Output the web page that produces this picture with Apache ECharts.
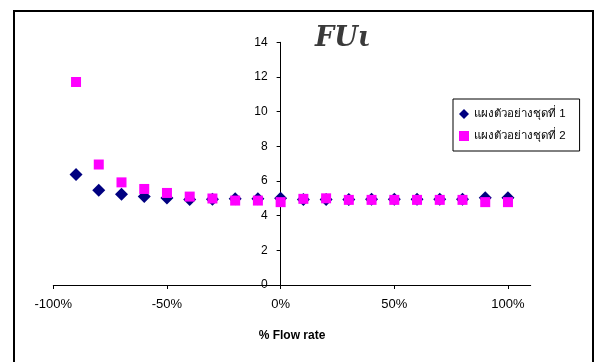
<!DOCTYPE html>
<html><head><meta charset="utf-8">
<script src="https://cdn.jsdelivr.net/npm/echarts@6/dist/echarts.min.js"></script>
<style>html,body{margin:0;padding:0;background:#fff}#c{width:595px;height:362px}</style>
</head><body><div id="c"></div>
<script>
const titleText = 'FUι';
const xValues = [-0.9,-0.8,-0.7,-0.6,-0.5,-0.4,-0.3,-0.2,-0.1,0,0.1,0.2,0.3,0.4,0.5,0.6,0.7,0.8,0.9,1.0];
const series1Name = 'แผงตัวอย่างชุดที่ 1';
const series2Name = 'แผงตัวอย่างชุดที่ 2';
const series1 = [6.38,5.46,5.23,5.10,5.02,4.93,4.95,4.97,4.98,5.00,4.93,4.93,4.93,4.95,4.95,4.95,4.95,4.95,5.04,5.04];
const series2 = [11.71,6.95,5.92,5.54,5.31,5.10,4.99,4.87,4.87,4.78,4.97,5.00,4.91,4.91,4.91,4.91,4.91,4.91,4.78,4.78];
const xTickValues = [-1,-0.5,0,0.5,1];
const xName = '% Flow rate';

const chart = echarts.init(document.getElementById('c'), null, {renderer:'canvas'});
const font = 'Liberation Sans, Arial, sans-serif';
const gridLeft = 53.3, gridRight = 64.3, xMin = -1, xMax = 1.1;
const gridW = 595 - gridLeft - gridRight;
const yOffset = -gridW * (0 - xMin) / (xMax - xMin);
chart.setOption({
  animation:false,
  backgroundColor:'#fff',
  title:{text:titleText,left:310,top:20,textStyle:{fontFamily:'DejaVu Serif',fontStyle:'italic',fontWeight:'bold',fontSize:27,color:'#3a3a3a'}},
  graphic:[{type:'rect',shape:{x:14,y:11,width:579,height:360},style:{fill:null,stroke:'#000',lineWidth:2},silent:true}],
  grid:{left:gridLeft,right:gridRight,top:42.3,bottom:77,containLabel:false},
  legend:{
    orient:'vertical',left:453,top:99,
    borderColor:'#000',borderWidth:1,padding:[9,14,9,6],itemGap:10,
    itemWidth:10,itemHeight:10,
    textStyle:{fontFamily:font,fontSize:11.5,color:'#000'},
    data:[{name:series1Name,icon:'diamond'},{name:series2Name,icon:'rect'}]
  },
  xAxis:{
    type:'value',min:xMin,max:xMax,
    name:xName,nameLocation:'middle',nameGap:45,
    nameTextStyle:{fontFamily:font,fontSize:12,fontWeight:'bold',color:'#000'},
    axisLine:{onZero:true,lineStyle:{color:'#000',width:1}},
    axisTick:{show:true,length:4,customValues:xTickValues,lineStyle:{color:'#000'}},
    axisLabel:{customValues:xTickValues,margin:13,fontFamily:font,fontSize:13,color:'#000',
      formatter:v=>Math.round(v*100)+'%'},
    splitLine:{show:false}
  },
  yAxis:{
    type:'value',min:0,max:14,interval:2,position:'left',offset:yOffset,
    axisLine:{show:true,onZero:false,lineStyle:{color:'#000',width:1}},
    axisTick:{show:true,length:4,lineStyle:{color:'#000'}},
    axisLabel:{margin:13,fontFamily:font,fontSize:12,color:'#000'},
    splitLine:{show:false}
  },
  series:[
    {name:series1Name,type:'scatter',symbol:'diamond',symbolSize:13,
     itemStyle:{color:'#000080',opacity:1},data:xValues.map((x,i)=>[x,series1[i]])},
    {name:series2Name,type:'scatter',symbol:'rect',symbolSize:10,
     itemStyle:{color:'#FF00FF',opacity:1},data:xValues.map((x,i)=>[x,series2[i]])}
  ]
});
</script></body></html>
